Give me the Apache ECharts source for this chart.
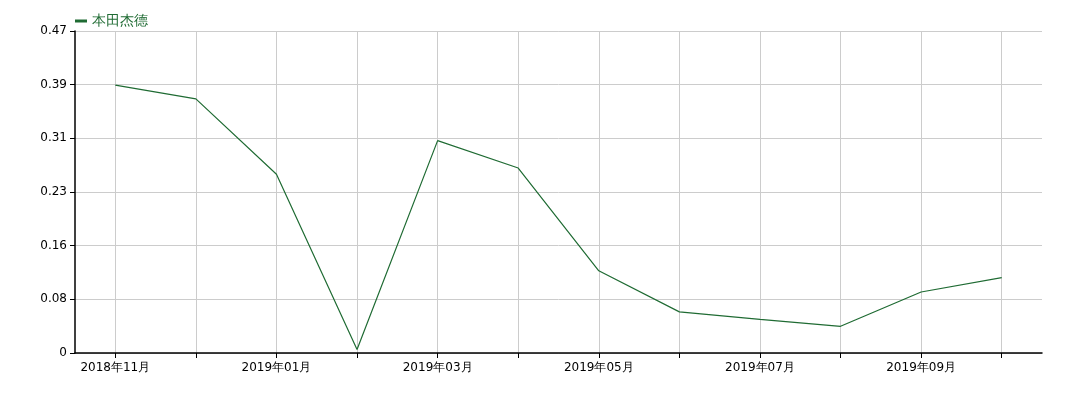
<!DOCTYPE html>
<html>
<head>
<meta charset="utf-8">
<script src="https://cdn.jsdelivr.net/npm/echarts@6/dist/echarts.min.js"></script>
<style>html,body{margin:0;padding:0;background:#fff}#c{width:1080px;height:404px}</style>
</head>
<body>
<div id="c"></div>
<script>
const categories = ['2018年11月','2018年12月','2019年01月','2019年02月','2019年03月','2019年04月','2019年05月','2019年06月','2019年07月','2019年08月','2019年09月','2019年10月'];
const seriesName = '本田杰德';
const values = [0.391, 0.371, 0.261, 0.005, 0.310, 0.270, 0.120, 0.060, 0.049, 0.039, 0.089, 0.110];
const yTickLabels = ['0','0.08','0.16','0.23','0.31','0.39','0.47'];
const yMax = 0.47;

const green = '#1f6b33';
const font = 'DejaVu Sans';
const chart = echarts.init(document.getElementById('c'));
chart.setOption({
  animation: false,
  legend: {
    left: 70, top: 9,
    itemWidth: 12, itemHeight: 3, itemGap: 5,
    icon: 'rect',
    textStyle: { color: green, fontSize: 14, fontFamily: font },
    data: [seriesName]
  },
  grid: { left: 75, right: 38, top: 31, bottom: 51, containLabel: false },
  xAxis: {
    type: 'category',
    data: categories,
    boundaryGap: true,
    axisLine: { lineStyle: { color: '#000', width: 1.5 } },
    axisTick: { show: true, alignWithLabel: true, interval: 0, length: 5, lineStyle: { color: '#000' } },
    axisLabel: { interval: 1, color: '#000', fontSize: 12, fontFamily: font, margin: 9 },
    splitLine: { show: true, alignWithLabel: true, interval: 0, lineStyle: { color: '#cccccc', width: 1 } }
  },
  yAxis: {
    type: 'value',
    min: 0, max: yMax, interval: yMax / 6,
    axisLine: { show: true, lineStyle: { color: '#000', width: 1.5 } },
    axisTick: { show: true, length: 5, lineStyle: { color: '#000' } },
    axisLabel: { color: '#000', fontSize: 12, fontFamily: font, margin: 8,
      formatter: (v, i) => yTickLabels[i] !== undefined ? yTickLabels[i] : '' },
    splitLine: { show: true, lineStyle: { color: '#cccccc', width: 1 } }
  },
  series: [{
    name: seriesName,
    type: 'line',
    data: values,
    showSymbol: false,
    symbol: 'none',
    lineStyle: { color: green, width: 1.2 },
    itemStyle: { color: green }
  }]
});
</script>
</body>
</html>
